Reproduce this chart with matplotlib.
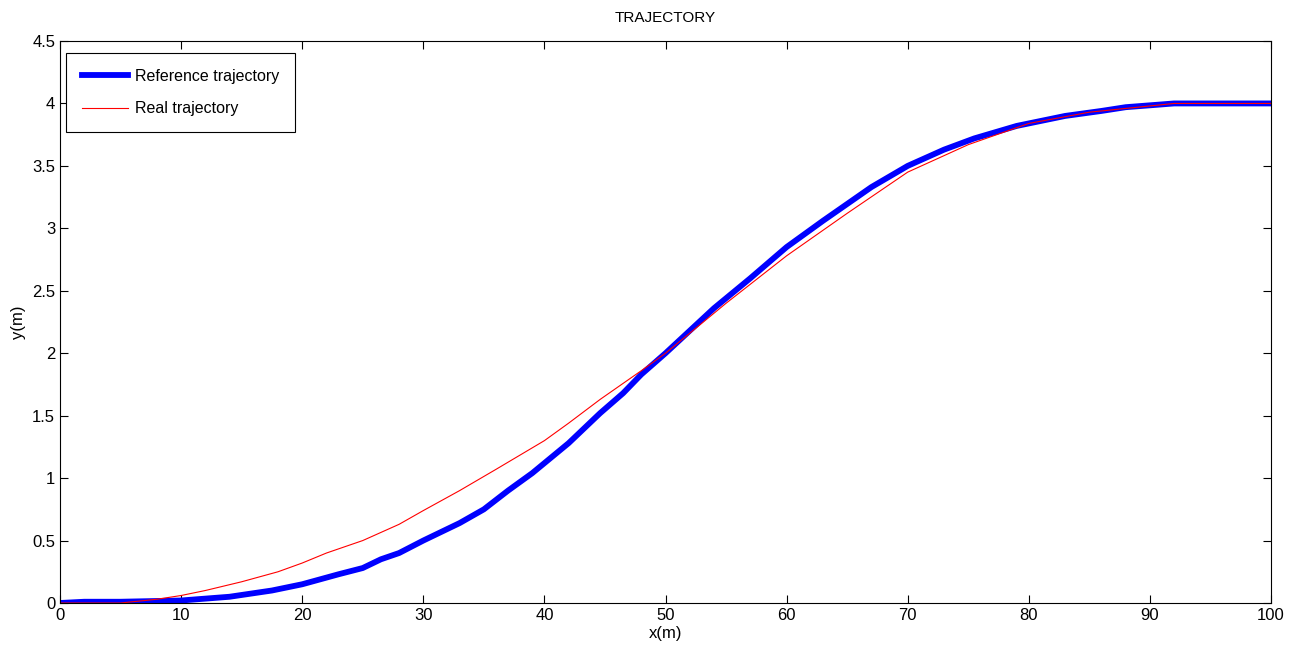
import matplotlib
matplotlib.use('Agg')
import matplotlib.pyplot as plt

# Fuente parecida a la de MATLAB
plt.rcParams['font.family'] = ['Liberation Sans', 'DejaVu Sans']

# Trayectoria de referencia
x_ref = [0, 2, 5, 10, 14, 17.5, 20, 23, 25, 26.5, 28, 30, 33, 35, 37, 39, 42, 44.6,
         46.5, 48, 50, 52, 54, 57, 60, 63, 67, 70, 73, 75.5, 79, 83, 86, 88, 92, 100]
y_ref = [0, 0.01, 0.01, 0.02, 0.05, 0.1, 0.15, 0.23, 0.28, 0.35, 0.4, 0.5, 0.64, 0.75,
         0.9, 1.04, 1.28, 1.52, 1.68, 1.83, 2.0, 2.18, 2.36, 2.6, 2.85, 3.06, 3.33, 3.5,
         3.63, 3.72, 3.82, 3.9, 3.94, 3.97, 4.0, 4.0]

# Trayectoria real
x_real = [0, 5, 8, 10, 12, 15, 18, 20, 22, 25, 28, 30, 33, 36, 40, 42, 44.6, 48, 50,
          52, 55, 60, 65, 70, 75, 80, 85, 90, 92, 100]
y_real = [0, 0.0, 0.03, 0.06, 0.1, 0.17, 0.25, 0.32, 0.4, 0.5, 0.63, 0.74, 0.9, 1.07,
          1.3, 1.44, 1.63, 1.86, 2.0, 2.16, 2.4, 2.78, 3.12, 3.45, 3.67, 3.84, 3.93,
          3.98, 4.0, 4.0]

fig = plt.figure(figsize=(12.95, 6.68), dpi=100)
ax = fig.add_axes([60 / 1295, 65 / 668, 1211 / 1295, 562 / 668])

ax.plot(x_ref, y_ref, color='#0000ff', linewidth=4.2, label='Reference trajectory')
ax.plot(x_real, y_real, color='#ff0000', linewidth=0.8, label='Real trajectory')

ax.set_xlim(0, 100)
ax.set_ylim(0, 4.5)
ax.set_xticks(range(0, 101, 10))
ax.set_yticks([0, 0.5, 1, 1.5, 2, 2.5, 3, 3.5, 4, 4.5])
ax.set_yticklabels(['0', '0.5', '1', '1.5', '2', '2.5', '3', '3.5', '4', '4.5'])
ax.tick_params(direction='in', top=True, right=True, length=6, width=0.8, labelsize=12)
for s in ax.spines.values():
    s.set_linewidth(0.8)

ax.set_xlabel('x(m)', fontsize=12, labelpad=2)
ax.set_ylabel('y(m)', fontsize=12, labelpad=4)
ax.set_title('TRAJECTORY', fontsize=11, pad=14)

leg = ax.legend(loc='upper left', bbox_to_anchor=(0.005, 0.979), borderaxespad=0,
                fontsize=11.5, fancybox=False, edgecolor='black', framealpha=1,
                handlelength=2.9, handletextpad=0.4, borderpad=1.0, labelspacing=1.1)
leg.get_frame().set_linewidth(0.8)

plt.savefig('out.png', dpi=100)
